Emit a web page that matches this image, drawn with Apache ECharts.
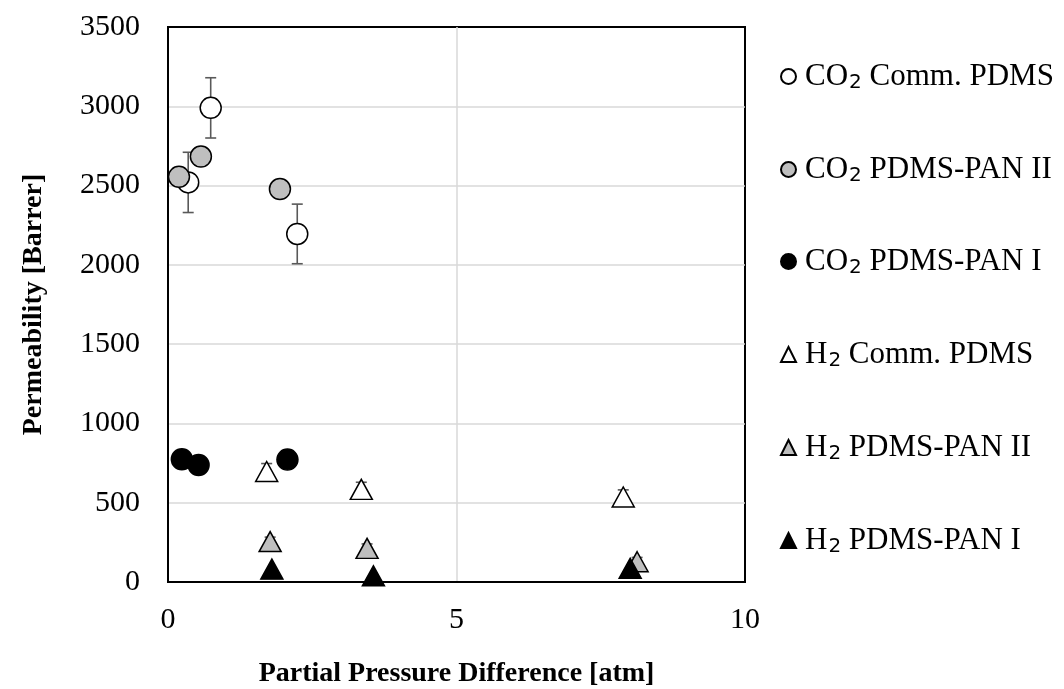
<!DOCTYPE html>
<html>
<head>
<meta charset="utf-8">
<script src="https://cdn.jsdelivr.net/npm/echarts@6/dist/echarts.min.js"></script>
<style>
html,body{margin:0;padding:0;background:#fff;}
#chart{width:1064px;height:689px;}
</style>
</head>
<body>
<div id="chart"></div>
<script>
// ---- data ----
const seriesNames = ['CO2 Comm. PDMS','CO2 PDMS-PAN II','CO2 PDMS-PAN I','H2 Comm. PDMS','H2 PDMS-PAN II','H2 PDMS-PAN I'];
const co2Comm = [[0.35,2520],[0.74,2990],[2.24,2195]];
const co2CommErr = [190,190,188];
const co2Pan2 = [[0.19,2555],[0.57,2683],[1.94,2478]];
const co2Pan1 = [[0.24,774],[0.53,738],[2.07,772]];
const h2Comm = [[1.71,697],[3.35,584],[7.89,536]];
const h2CommErr = [50,45,45];
const h2Pan2 = [[1.77,255],[3.45,212],[8.13,128]];
const h2Pan2Err = [28,28,27];
const h2Pan1 = [[1.80,81],[3.56,39],[8.01,86]];
const xTicks = [0,5,10];
const yTicks = [0,500,1000,1500,2000,2500,3000,3500];

const serif = '"Liberation Serif","Times New Roman",serif';
const chart = echarts.init(document.getElementById('chart'));

function errSeries(pts, errs){
  const d = pts.map((p,i)=>[p[0],p[1],errs[i]]);
  return {
    type:'custom', data:d, z:1, silent:true,
    renderItem:function(params, api){
      const x = api.value(0), y = api.value(1), e = api.value(2);
      const top = api.coord([x, y+e]);
      const bot = api.coord([x, y-e]);
      const cw = 5.5;
      const st = {stroke:'#595959', lineWidth:1.6};
      return {type:'group', children:[
        {type:'line', shape:{x1:top[0],y1:top[1],x2:bot[0],y2:bot[1]}, style:st},
        {type:'line', shape:{x1:top[0]-cw,y1:top[1],x2:top[0]+cw,y2:top[1]}, style:st},
        {type:'line', shape:{x1:bot[0]-cw,y1:bot[1],x2:bot[0]+cw,y2:bot[1]}, style:st}
      ]};
    }
  };
}

const styles = [
  {symbol:'circle', size:21, color:'#ffffff'},
  {symbol:'circle', size:21, color:'#bfbfbf'},
  {symbol:'circle', size:21, color:'#000000'},
  {symbol:'triangle', size:[22,20], color:'#ffffff'},
  {symbol:'triangle', size:[22,20], color:'#bfbfbf'},
  {symbol:'triangle', size:[22,20], color:'#000000'}
];
const dataSets = [co2Comm, co2Pan2, co2Pan1, h2Comm, h2Pan2, h2Pan1];

const scatter = dataSets.map((d,i)=>({
  name: seriesNames[i], type:'scatter', data:d, z:3,
  symbol: styles[i].symbol, symbolSize: styles[i].size,
  itemStyle:{color:styles[i].color, borderColor:'#000', borderWidth:1.5, opacity:1},
  emphasis:{disabled:true}
}));

const legendTops = [75,168,260,353,446,539];
const legends = seriesNames.map((n,i)=>({
  data:[{name:n, icon: styles[i].symbol}],
  left: 780, top: legendTops[i]-14, orient:'vertical', padding:0,
  itemWidth:15, itemHeight:15, itemGap:0,
  selectedMode:false,
  formatter:function(name){
    const m = name.match(/^(CO|H)2 (.*)$/);
    return '{b|'+m[1]+'}{s|2}{b| '+m[2]+'}';
  },
  textStyle:{
    padding:[0,0,0,4],
    rich:{
      b:{fontFamily:serif, fontSize:31, color:'#000', verticalAlign:'middle'},
      s:{fontFamily:'"DejaVu Sans",sans-serif', fontSize:20, color:'#000', padding:[13,0,0,1]}
    }
  }
}));

const hiddenAxis = {
  axisLine:{show:true, lineStyle:{color:'#000', width:2}},
  axisTick:{show:false}, axisLabel:{show:false}, splitLine:{show:false}
};

chart.setOption({
  animation:false,
  backgroundColor:'#fff',
  grid:{left:168, right:319, top:27, bottom:107, show:true, borderColor:'#000', borderWidth:2,
        backgroundColor:'transparent', containLabel:false, outerBoundsMode:'none'},
  legend: legends,
  xAxis:[{
    type:'value', min:xTicks[0], max:xTicks[xTicks.length-1], interval:5,
    name:'Partial Pressure Difference [atm]', nameLocation:'middle', nameGap:78,
    nameTextStyle:{fontFamily:serif, fontSize:28, fontWeight:'bold', color:'#000'},
    axisLine:{show:true, lineStyle:{color:'#000', width:2}},
    axisTick:{show:false},
    axisLabel:{fontFamily:serif, fontSize:30, color:'#000', margin:23},
    splitLine:{show:true, showMaxLine:false, lineStyle:{color:'#d9d9d9', width:1.5}}
  }, Object.assign({type:'value', position:'top', min:0, max:10}, hiddenAxis)],
  yAxis:[{
    type:'value', min:yTicks[0], max:yTicks[yTicks.length-1], interval:500,
    name:'Permeability [Barrer]', nameLocation:'middle', nameGap:120, nameRotate:90,
    nameTextStyle:{fontFamily:serif, fontSize:28, fontWeight:'bold', color:'#000'},
    axisLine:{show:true, lineStyle:{color:'#000', width:2}},
    axisTick:{show:false},
    axisLabel:{fontFamily:serif, fontSize:30, color:'#000', margin:28, formatter:function(v){return String(v);}},
    splitLine:{show:true, showMaxLine:false, lineStyle:{color:'#d9d9d9', width:1.5}}
  }, Object.assign({type:'value', position:'right', min:0, max:3500}, hiddenAxis)],
  series:[
    errSeries(co2Comm, co2CommErr),
    errSeries(h2Comm, h2CommErr),
    errSeries(h2Pan2, h2Pan2Err)
  ].concat(scatter)
});
</script>
</body>
</html>
